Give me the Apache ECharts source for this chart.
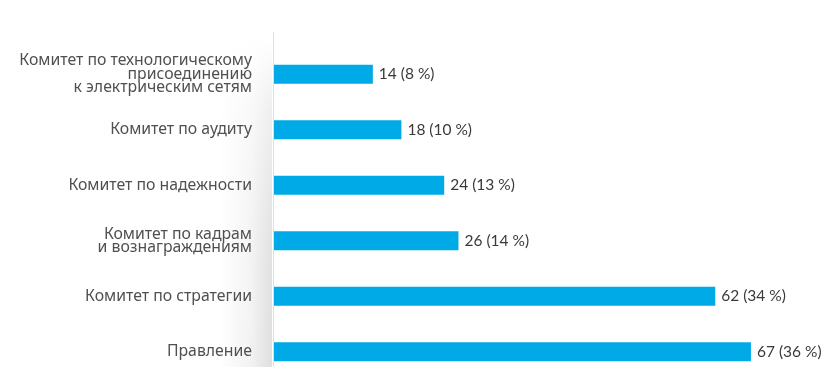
<!DOCTYPE html>
<html><head><meta charset="utf-8">
<script src="https://cdn.jsdelivr.net/npm/echarts@6/dist/echarts.min.js"></script>
<style>html,body{margin:0;padding:0;background:#fff;overflow:hidden}#c{width:826px;height:390px}</style>
</head><body><div id="c"></div>
<script>
var categories = [
  "Комитет по технологическому\nприсоединению\nк электрическим сетям",
  "Комитет по аудиту",
  "Комитет по надежности",
  "Комитет по кадрам\nи вознаграждениям",
  "Комитет по стратегии",
  "Правление"
];
var values = [14, 18, 24, 26, 62, 67];
var shares = ["8 %", "10 %", "13 %", "14 %", "34 %", "36 %"];

var chart = echarts.init(document.getElementById('c'), null, {renderer:'canvas'});
chart.setOption({
  animation:false,
  backgroundColor:'#fff',
  graphic:[
    {type:'rect', z:-20, shape:{x:220,y:40,width:52,height:350},
     style:{fill:new echarts.graphic.LinearGradient(0,0,1,0,[{offset:0,color:'rgba(0,0,0,0)'},{offset:0.6,color:'rgba(0,0,0,0.05)'},{offset:1,color:'rgba(0,0,0,0.13)'}])}},
    {type:'rect', z:-19, shape:{x:220,y:40,width:52,height:350},
     style:{fill:new echarts.graphic.LinearGradient(0,0,0,1,[{offset:0,color:'rgba(255,255,255,1)'},{offset:0.2,color:'rgba(255,255,255,0.5)'},{offset:0.6,color:'rgba(255,255,255,0.1)'},{offset:1,color:'rgba(255,255,255,0)'}])}},
    {type:'line', z:5, shape:{x1:273.5,y1:32,x2:273.5,y2:390}, style:{stroke:'#d3e3ef',lineWidth:1}}
  ],
  grid:{left:273, top:46.5, width:535, height:333, containLabel:false},
  xAxis:{type:'value', min:0, max:75, show:false},
  yAxis:{type:'category', data:categories, inverse:true, z:10,
    axisLine:{show:false}, axisTick:{show:false},
    axisLabel:{color:'#505050', fontSize:15.8, fontFamily:'Noto Sans', lineHeight:13.5, margin:21, align:'right'}},
  series:[{type:'bar', data:values, barWidth:19, itemStyle:{color:'#00aae6'},
    label:{show:true, position:'right', distance:6, color:'#3a3a3a', fontSize:15.5, fontFamily:'Lato',
      formatter:function(p){return values[p.dataIndex]+' ('+shares[p.dataIndex]+')';}}}]
});
</script></body></html>
